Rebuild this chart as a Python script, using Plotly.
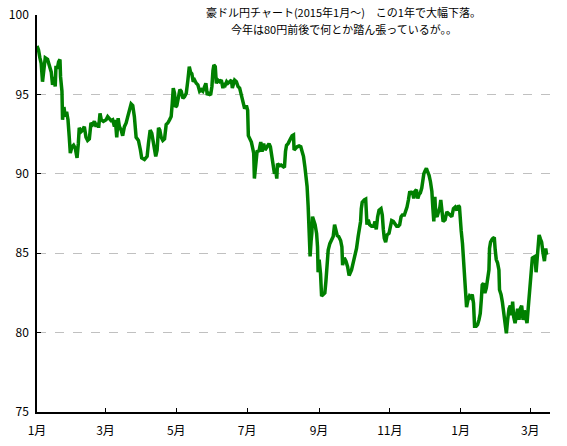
import pandas as pd
import plotly.graph_objects as go

# Days elapsed since 2015-01-01 and AUD/JPY rate
days = [0, 1.3, 2.5, 3.6, 4.75, 6.0, 7.1, 9.1, 10.5, 12.3, 13.4, 14.6, 15.7, 16.3, 17.7, 18.6, 19.8, 20.3,
        21.5, 22.0, 23.2, 24.4, 25.5, 26.7, 27.8, 28.7, 30.1, 31.5, 33.0, 34.5, 35.6, 36.4, 37.9, 39.3,
        40.8, 42.2, 43.6, 45.1, 46.5, 47.9, 49.4, 50.9, 52.2, 53.1, 54.3, 55.4, 57.2, 59.5, 60.9, 62.4,
        63.8, 65.2, 66.7, 67.5, 68.7, 69.9, 71.0, 72.5, 73.8, 75.3, 76.8, 78.2, 79.6, 81.1, 82.5, 83.9,
        85.4, 87.4, 89.1, 90.2, 92.6, 94.9, 96.0, 97.5, 98.9, 100.1, 101.2, 102.3, 103.5, 104.7, 105.8,
        107.0, 108.4, 109.9, 111.3, 112.7, 114.2, 115.6, 116.5, 117.4, 118.5, 119.4, 120.5, 121.9, 123.1,
        124.3, 125.7, 127.1, 128.6, 130.0, 131.2, 132.3, 133.4, 134.6, 135.8, 137.2, 138.6, 140.1, 141.5,
        142.9, 144.4, 145.5, 146.7, 147.8, 149.6, 150.7, 151.6, 152.4, 153.6, 154.5, 155.9, 157.3, 158.8,
        160.2, 161.1, 162.3, 163.4, 164.5, 166.0, 167.5, 168.3, 169.4, 170.3, 171.8, 173.2, 174.6, 176.1,
        177.5, 178.9, 180.4, 181.5, 182.1, 183.3, 184.7, 185.6, 186.7, 187.3, 188.4, 189.6, 191.3, 192.8,
        193.9, 195.3, 196.5, 198.2, 199.9, 201.1, 202.3, 203.4, 204.6, 205.7, 206.6, 207.2, 208.6, 210.3,
        212.0, 213.2, 214.1, 215.0, 216.3, 217.2, 218.4, 219.8, 221.0, 221.5, 222.7, 224.1, 225.8, 227.3,
        228.4, 229.6, 230.8, 231.9, 232.7, 233.6, 234.5, 235.3, 236.2, 236.8, 237.4, 238.5, 239.6, 240.9,
        241.7, 242.2, 243.1, 244.3, 245.2, 246.6, 248.0, 248.9, 250.0, 250.9, 252.3, 253.8, 255.2, 256.4,
        257.5, 258.7, 259.9, 261.6, 262.7, 263.3, 264.7, 266.2, 267.6, 268.9, 271.0, 272.4, 273.9, 275.3,
        276.7, 277.9, 278.8, 279.4, 280.2, 282.0, 283.2, 283.7, 284.3, 285.4, 286.6, 288.3, 290.1, 291.2,
        292.3, 293.5, 294.7, 296.4, 297.5, 298.4, 299.2, 300.4, 301.6, 303.3, 304.4, 305.6, 307.0, 308.5,
        309.9, 311.3, 312.5, 313.7, 314.8, 316.5, 317.7, 318.8, 320.0, 321.2, 322.3, 323.4, 324.6, 325.7,
        326.9, 328.1, 329.2, 330.3, 331.5, 332.4, 333.3, 334.4, 335.5, 336.7, 337.8, 339.0, 340.2, 341.1,
        341.9, 342.8, 343.6, 344.7, 345.9, 347.1, 347.9, 348.8, 349.9, 351.6, 353.1, 354.5, 356.0, 357.4,
        358.8, 360.3, 361.8, 363.1, 364.0, 364.6, 365.5, 366.6, 367.5, 368.3, 369.2, 370.1, 371.3, 372.6,
        373.8, 375.0, 376.1, 377.0, 378.4, 379.6, 380.8, 381.9, 382.8, 383.6, 384.7, 385.9, 387.1, 388.2,
        389.4, 389.9, 390.8, 392.3, 394.0, 394.8, 395.7, 396.8, 398.0, 398.5, 399.8, 400.9, 402.0, 403.2,
        404.4, 405.5, 406.7, 407.8, 409.0, 409.8, 410.7, 411.9, 413.0, 414.1, 415.3, 416.4, 417.6, 418.8,
        419.9, 421.0, 422.2, 423.3, 424.2, 425.1, 425.9, 426.8, 427.9, 429.1, 430.0, 430.9, 431.7, 432.6,
        433.7, 434.8, 436.0, 437.2, 438.3, 439.1]

rates = [98.05, 97.8, 97.3, 96.96, 95.8, 96.7, 97.3, 97.2, 96.85, 96.4, 95.6, 96.1, 95.5, 96.7, 96.7, 97.05, 97.2, 96.1,
         95.2, 93.4, 94.2, 93.6, 93.9, 93.4, 92.3, 91.3, 91.7, 91.8, 91.6, 91.0, 91.9, 92.9, 92.65, 92.75,
         92.97, 92.3, 92.1, 92.2, 93.2, 93.1, 93.3, 92.97, 93.2, 92.9, 93.8, 93.4, 93.3, 93.4, 93.6, 93.5,
         93.35, 93.4, 92.97, 93.4, 92.3, 93.5, 92.97, 92.75, 92.4, 92.97, 93.2, 93.6, 94.0, 94.4, 94.3, 93.6,
         92.3, 92.1, 91.5, 91.0, 90.9, 91.1, 91.9, 92.75, 92.55, 91.9, 91.5, 91.1, 91.5, 92.9, 92.75,
         92.3, 92.1, 92.2, 93.1, 93.2, 93.4, 93.6, 94.4, 95.4, 95.07, 94.2, 94.3, 94.85, 95.3,
         95.2, 94.75, 94.85, 95.07, 95.9, 96.75, 96.4, 96.3, 95.8, 95.9, 95.7, 95.6, 95.2, 95.3,
         95.2, 95.5, 95.7, 94.96, 95.07, 94.96, 95.5, 96.5, 96.85, 96.75, 95.7, 95.9, 95.8, 95.9,
         95.4, 95.7, 95.6, 95.8, 95.7, 95.8, 95.9, 95.4, 95.7, 95.9, 95.8, 95.5, 95.4, 94.85,
         94.4, 94.1, 94.3, 94.0, 92.4, 92.2, 92.0, 91.7, 91.3, 89.7, 90.9, 91.4, 91.45, 92.0,
         91.4, 91.9, 91.5, 91.7, 91.9, 91.7, 91.2, 90.45, 90.0, 90.2, 89.7, 90.65, 90.5, 90.55,
         90.45, 90.4, 91.4, 91.8, 91.9, 92.1, 92.2, 92.4, 92.45, 91.5, 91.6, 91.7, 91.75, 91.7,
         91.4, 91.1, 90.45, 89.9, 89.2, 88.0, 86.7, 84.8, 85.8, 86.25, 87.3, 87.1, 86.8, 86.25,
         85.4, 83.8, 84.6, 83.7, 82.3, 82.4, 82.5, 83.2, 84.4, 85.2, 85.6, 85.8, 86.05, 86.8,
         86.35, 86.1, 86.05, 85.8, 85.4, 84.25, 84.7, 84.5, 84.15, 83.6, 83.95, 84.4, 84.8, 85.3,
         86.05, 86.6, 87.0, 87.8, 88.2, 88.35, 88.4, 87.7, 86.8, 87.1, 86.8, 86.7, 86.7, 87.0,
         86.5, 87.3, 87.7, 87.8, 87.4, 86.5, 85.95, 85.7, 86.15, 86.25, 86.8, 87.05, 87.0, 86.8,
         86.7, 86.7, 86.8, 87.3, 87.4, 87.4, 87.6, 87.9, 88.35, 88.9, 88.7, 88.9, 88.45, 88.9,
         89.0, 88.45, 88.7, 88.8, 89.1, 89.7, 90.0, 90.2, 90.35, 90.1, 89.9, 89.5, 88.9, 87.8,
         87.0, 88.55, 87.4, 87.3, 87.6, 87.9, 88.35, 87.4, 87.0, 87.1, 87.6, 87.5, 87.4, 87.3,
         87.8, 87.9, 87.7, 88.0, 87.9, 87.1, 86.4, 85.6, 84.6, 83.6, 82.7, 81.6, 82.05, 82.3,
         82.2, 82.4, 81.85, 80.4, 80.4, 80.5, 80.8, 81.2, 82.05, 83.0, 83.1, 82.5, 82.8, 83.3,
         83.95, 85.3, 85.7, 85.9, 86.0, 85.2, 84.6, 84.4, 83.95, 82.7, 82.4, 81.95, 81.2, 80.6,
         79.95, 80.8, 81.5, 81.7, 81.1, 81.95, 81.0, 80.6, 81.2, 81.5, 80.8, 81.5, 81.7, 80.8,
         81.4, 80.9, 80.6, 81.6, 82.6, 83.6, 84.4, 84.7, 84.75, 84.8, 83.8, 84.6, 85.6, 86.15,
         85.9, 85.7, 85.0, 84.5, 85.3, 84.9]

tick_dates = ["2015-01-01", "2015-03-01", "2015-05-01", "2015-07-01",
              "2015-09-01", "2015-11-01", "2016-01-01", "2016-03-01"]
tick_labels = ["1月", "3月", "5月", "7月", "9月", "11月", "1月", "3月"]
y_ticks = [75, 80, 85, 90, 95, 100]

title_lines = ["豪ドル円チャート(2015年1月～)　この1年で大幅下落。",
               "今年は80円前後で何とか踏ん張っているが。。"]

dates = pd.Timestamp("2015-01-01") + pd.to_timedelta(days, unit="D")

font_family = "Noto Sans CJK JP"

fig = go.Figure()
fig.add_trace(go.Scatter(
    x=dates, y=rates, mode="lines",
    line=dict(color="#008000", width=3.5),
    hoverinfo="x+y", showlegend=False,
))

fig.update_layout(
    width=567, height=446,
    margin=dict(l=37, r=17, t=15, b=34),
    paper_bgcolor="white", plot_bgcolor="white",
    font=dict(family=font_family, size=12, color="black"),
    xaxis=dict(
        range=["2015-01-01", "2016-03-18"],
        tickvals=tick_dates, ticktext=tick_labels,
        showgrid=False, zeroline=False, automargin=False,
        showline=True, linecolor="black", linewidth=1.5,
        ticks="inside", ticklen=4, tickcolor="black",
        ticklabelstandoff=7,
        tickfont=dict(size=12, family=font_family),
    ),
    yaxis=dict(
        range=[75, 100], tickvals=y_ticks, automargin=False,
        showgrid=True, gridcolor="#c0c0c0", griddash="dash", gridwidth=1,
        zeroline=False,
        showline=True, linecolor="black", linewidth=1.5,
        ticks="inside", ticklen=4, tickcolor="black",
        ticklabelstandoff=4,
        tickfont=dict(size=12, family=font_family),
    ),
)

for line_text, y_pos in zip(title_lines, [1.008, 0.965]):
    fig.add_annotation(
        text=line_text, xref="paper", yref="paper", x=0.598, y=y_pos,
        xanchor="center", yanchor="middle", showarrow=False,
        bgcolor="white", borderpad=0,
        font=dict(size=11, family=font_family, color="black"),
    )

fig.write_html("out.html", config={"displayModeBar": False},
               post_script="document.body.style.margin='0';")
